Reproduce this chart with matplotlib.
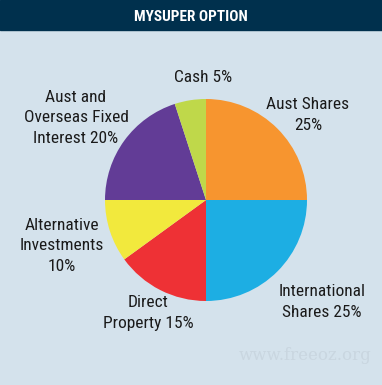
import matplotlib.pyplot as plt
from matplotlib.patches import Rectangle
from matplotlib import font_manager

labels = ['Aust Shares\n25%', 'International\nShares 25%', 'Direct\nProperty 15%',
          'Alternative\nInvestments\n10%', 'Aust and\nOverseas Fixed\nInterest 20%', 'Cash 5%']
shares = [25, 25, 15, 10, 20, 5]
colors = ['#f7952f', '#1daee3', '#ee3135', '#f2e93d', '#623c96', '#bfd84a']
# label centres in pixels (x, y from top)
label_pos = [(308, 115), (322, 302), (148, 313), (62, 246), (76, 118), (203, 78)]

W, H = 382, 385
names = {f.name for f in font_manager.fontManager.ttflist}
fams = [n for n in ['DejaVu Sans Condensed', 'Liberation Sans Narrow', 'Roboto Condensed', 'Roboto']
        if n in names] + ['DejaVu Sans']
plt.rcParams['font.family'] = fams

fig = plt.figure(figsize=(W / 100, H / 100), dpi=100)
fig.patch.set_facecolor('#d4e2ec')
ax = fig.add_axes([0, 0, 1, 1])

ax.pie(shares, colors=colors, startangle=90, counterclock=False,
       center=(206, H - 200), radius=101, frame=True)
ax.set_xlim(0, W)
ax.set_ylim(0, H)
ax.set_aspect('equal')
ax.axis('off')

# header bar
ax.add_patch(Rectangle((0, H - 30), W, 30, color='#00304d', zorder=1))
ax.text(W / 2, H - 17, 'MYSUPER OPTION', color='white', fontsize=11,
        fontweight='bold', ha='center', va='center', zorder=2)

for lab, (x, y) in zip(labels, label_pos):
    ax.text(x, H - y, lab, ha='center', va='center', fontsize=12.5,
            color='#1a1a1a', linespacing=1.45)

ax.text(305, H - 355, 'www.freeoz.org', ha='center', va='center', fontsize=12,
        family='DejaVu Serif', color='#c9d6e0')

fig.savefig('out.png', dpi=100, facecolor=fig.get_facecolor())
